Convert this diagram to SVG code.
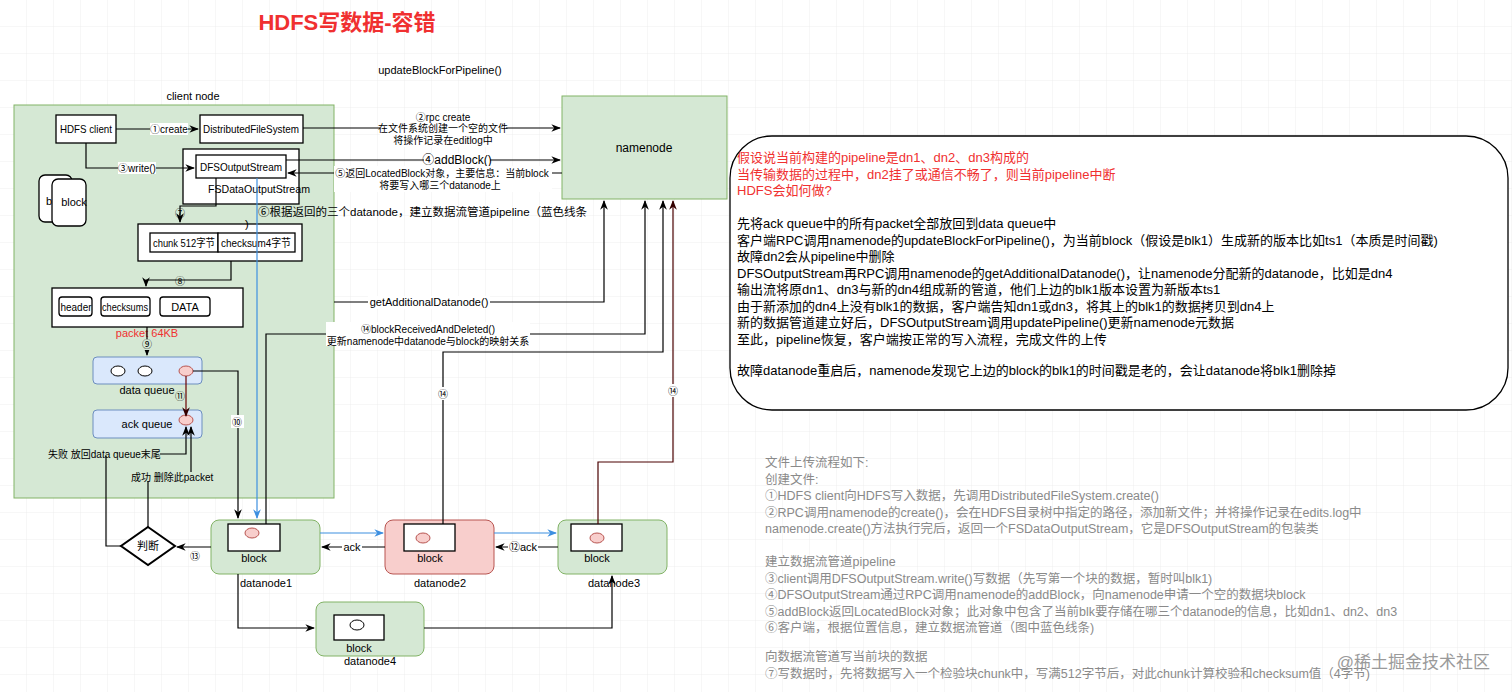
<svg xmlns="http://www.w3.org/2000/svg" width="1512" height="692" viewBox="0 0 1512 692">
<style>
text{font-family:"Liberation Sans","Noto Sans CJK SC",sans-serif;font-size:11px;fill:#000}
.c{text-anchor:middle}
.s{font-size:10px}
.ln{fill:none;stroke:#000;stroke-width:1.2}
.bl{fill:none;stroke:#3d8fe0;stroke-width:1.2}
.box{fill:#fff;stroke:#000;stroke-width:1.3}
.dn{fill:#d5e8d4;stroke:#82b366;stroke-width:1}
.q{fill:#dae8fc;stroke:#6c8ebf;stroke-width:1}
.pk{fill:#f8cecc;stroke:#b85450}
.lb{fill:#fff}
.r{font-size:13px}
.g{font-size:12.5px;fill:#8a8a8a}
</style>
<defs>
<pattern id="grid" width="27" height="27" patternUnits="userSpaceOnUse"><path d="M27 0V27H0" fill="none" stroke="#eee" stroke-width="1"/></pattern>
<marker id="a" viewBox="0 0 10 10" refX="9" refY="5" markerWidth="8" markerHeight="8" orient="auto"><path d="M0 1L10 5L0 9L3 5z" fill="#000"/></marker>
<marker id="ab" viewBox="0 0 10 10" refX="9" refY="5" markerWidth="8" markerHeight="8" orient="auto"><path d="M0 1L10 5L0 9L3 5z" fill="#3d8fe0"/></marker>
<marker id="ar" viewBox="0 0 10 10" refX="9" refY="5" markerWidth="8" markerHeight="8" orient="auto"><path d="M0 1L10 5L0 9L3 5z" fill="#330000"/></marker>
</defs>
<rect width="1512" height="692" fill="#fff"/>
<rect width="1512" height="692" fill="url(#grid)"/>
<text x="347" y="30" class="c" style="font-size:22px;font-weight:bold;fill:#f03030">HDFS写数据-容错</text>
<text x="440" y="74" class="c">updateBlockForPipeline()</text>
<text x="193" y="100" class="c">client node</text>

<g id="clientnode"><rect x="14" y="105" width="320" height="393" class="dn"/></g>
<g id="hdfsclient"><rect x="56" y="115" width="60" height="28" class="box"/><text x="86" y="133" class="c" textLength="52" lengthAdjust="spacingAndGlyphs">HDFS client</text></g>
<g id="dfs"><rect x="200" y="115" width="103" height="28" class="box"/><text x="251" y="133" class="c" textLength="96" lengthAdjust="spacingAndGlyphs">DistributedFileSystem</text></g>
<g id="fsdos"><rect x="183" y="149" width="116" height="55" class="box"/><rect x="196" y="155" width="90" height="23" class="box"/><text x="241" y="171" class="c" textLength="82" lengthAdjust="spacingAndGlyphs">DFSOutputStream</text><text x="259" y="193" class="c" textLength="102" lengthAdjust="spacingAndGlyphs">FSDataOutputStream</text></g>
<g id="blocks"><rect x="39" y="175" width="33" height="47" rx="6" class="box"/><text x="46" y="205">b</text><rect x="52" y="179" width="34" height="47" rx="6" class="box"/><text x="74" y="206" class="c">block</text></g>
<g id="chunk"><rect x="138" y="224" width="164" height="37" class="box"/><rect x="150" y="233" width="68" height="19" class="box"/><rect x="218" y="233" width="77" height="19" class="box"/><text x="184" y="247" class="c" textLength="62" lengthAdjust="spacingAndGlyphs">chunk 512字节</text><text x="256" y="247" class="c" textLength="70" lengthAdjust="spacingAndGlyphs">checksum4字节</text></g>
<g id="packet"><rect x="52" y="288" width="191" height="39" class="box"/><rect x="59" y="297" width="33" height="19" rx="3" class="box"/><rect x="101" y="297" width="49" height="19" rx="3" class="box"/><rect x="160" y="297" width="50" height="19" rx="3" class="box"/><text x="76" y="311" class="c" textLength="31" lengthAdjust="spacingAndGlyphs">header</text><text x="125" y="311" class="c" textLength="46" lengthAdjust="spacingAndGlyphs">checksums</text><text x="185" y="311" class="c">DATA</text><text x="147" y="337" class="c" style="fill:#f03030">packet 64KB</text></g>
<g id="dataqueue"><rect x="93" y="357" width="109" height="27" rx="4" class="q"/><ellipse cx="118" cy="371" rx="7" ry="5" class="box" style="stroke-width:1"/><ellipse cx="145" cy="371" rx="7" ry="5" class="box" style="stroke-width:1"/><ellipse cx="186" cy="371" rx="7" ry="5" class="pk"/><text x="147" y="394" class="c">data queue</text></g>
<g id="ackqueue"><rect x="93" y="410" width="109" height="28" rx="4" class="q"/><ellipse cx="186" cy="420" rx="7" ry="5" class="pk"/><text x="147" y="428" class="c">ack queue</text></g>
<g id="judge"><path d="M148 527L175 546L148 565L121 546Z" fill="#fff" stroke="#000" stroke-width="2"/><text x="148" y="550" class="c">判断</text></g>
<g id="namenode"><rect x="562" y="96" width="165" height="103" class="dn"/><text x="644" y="152" class="c" style="font-size:12px">namenode</text></g>
<g id="datanode1"><rect x="211" y="520" width="109" height="54" rx="8" class="dn"/><rect x="228" y="524" width="52" height="27" class="box"/><ellipse cx="252" cy="533" rx="7" ry="5" class="pk"/><text x="254" y="562" class="c">block</text><text x="266" y="587" class="c">datanode1</text></g>
<g id="datanode2"><rect x="385" y="520" width="109" height="54" rx="8" fill="#f8cecc" stroke="#b85450"/><rect x="404" y="524" width="51" height="27" class="box"/><ellipse cx="423" cy="538" rx="7" ry="5" class="pk"/><text x="430" y="562" class="c">block</text><text x="440" y="587" class="c">datanode2</text></g>
<g id="datanode3"><rect x="558" y="520" width="109" height="54" rx="8" class="dn"/><rect x="571" y="524" width="51" height="27" class="box"/><ellipse cx="597" cy="538" rx="7" ry="5" class="pk"/><text x="597" y="562" class="c">block</text><text x="614" y="587" class="c">datanode3</text></g>
<g id="datanode4"><rect x="316" y="602" width="108" height="54" rx="8" class="dn"/><rect x="334" y="615" width="50" height="25" class="box"/><ellipse cx="357" cy="625" rx="7" ry="5" class="box" style="stroke-width:1"/><text x="359" y="652" class="c">block</text><text x="370" y="665" class="c">datanode4</text></g>

<g id="connectors">
<path d="M116 129H198" class="ln" marker-end="url(#a)"/>
<rect x="150" y="123" width="38" height="12" class="lb"/><text x="169" y="133" class="c s">①create</text>
<path d="M86 143V168H194" class="ln" marker-end="url(#a)"/>
<rect x="118" y="162" width="38" height="12" class="lb"/><text x="137" y="172" class="c s">③write()</text>
<path d="M303 128H560" class="ln" marker-end="url(#a)"/>
<rect x="380" y="123" width="126" height="24" class="lb"/>
<text x="443" y="121" class="c s">②rpc create</text><text x="443" y="132" class="c s">在文件系统创建一个空的文件</text><text x="443" y="144" class="c s">将操作记录在editlog中</text>
<path d="M286 160H560" class="ln" marker-end="url(#a)"/>
<rect x="424" y="153" width="66" height="13" class="lb"/><text x="457" y="164" class="c" style="font-size:12px">④addBlock()</text>
<path d="M562 173H288" class="ln" marker-end="url(#a)"/>
<rect x="334" y="166" width="218" height="26" class="lb"/>
<text x="442" y="177" class="c s">⑤返回LocatedBlock对象，主要信息：当前block</text><text x="440" y="189" class="c s">将要写入哪三个datanode上</text>
<text x="258" y="216" style="font-size:11.5px">⑥根据返回的三个datanode，建立数据流管道pipeline（蓝色线条</text><text x="245" y="228">)</text>
<path d="M216 178V206H180V222" class="ln" marker-end="url(#a)"/><text x="180" y="217" class="c s">⑦</text>
<path d="M231 261V280H146V286" class="ln" marker-end="url(#a)"/><text x="180" y="285" class="c s">⑧</text>
<path d="M147 327V355" class="ln" marker-end="url(#a)"/><rect x="141" y="339" width="12" height="11" class="dn" style="stroke:none"/><text x="147" y="348" class="c s">⑨</text>
<path d="M186 376V416" fill="none" stroke="#6b0000" stroke-width="1.2" marker-end="url(#ar)"/><text x="180" y="400" class="c s">⑪</text>
<path d="M193 371H238V518" class="ln" marker-end="url(#a)"/><rect x="231" y="415" width="13" height="13" class="lb"/><text x="237" y="426" class="c s">⑩</text>
<path d="M257 178V518" class="bl" marker-end="url(#ab)"/>
<path d="M121 546H106V456" class="ln"/>
<path d="M160 454H186V427" class="ln" marker-end="url(#a)"/>
<text x="48" y="458" class="s">失败 放回data queue末尾</text>
<path d="M148 527V481" class="ln"/>
<path d="M191 472V427" class="ln" marker-end="url(#a)"/>
<text x="131" y="481" class="s">成功 删除此packet</text>
<path d="M211 547H177" class="ln" marker-end="url(#a)"/><text x="195" y="560" class="c s">⑬</text>
<path d="M320 533H383" class="bl" marker-end="url(#ab)"/>
<path d="M494 533H556" class="bl" marker-end="url(#ab)"/>
<path d="M385 547H322" class="ln" marker-end="url(#a)"/><rect x="342" y="541" width="20" height="12" class="lb"/><text x="352" y="551" class="c">ack</text>
<path d="M558 547H496" class="ln" marker-end="url(#a)"/><rect x="508" y="541" width="30" height="12" class="lb"/><text x="523" y="551" class="c">⑫ack</text>
<path d="M238 574V628H314" class="ln" marker-end="url(#a)"/>
<path d="M424 628H612V576" class="ln" marker-end="url(#a)"/>
<path d="M334 302H604V201" class="ln" marker-end="url(#a)"/>
<rect x="368" y="296" width="122" height="13" class="lb"/><text x="429" y="306" class="c">getAdditionalDatanode()</text>
<path d="M266 524V334H645V201" class="ln" marker-end="url(#a)"/>
<rect x="326" y="322" width="204" height="24" class="lb"/>
<text x="428" y="333" class="c s">⑭blockReceivedAndDeleted()</text><text x="428" y="345" class="c s">更新namenode中datanode与block的映射关系</text>
<path d="M443 524V352H663V201" class="ln" marker-end="url(#a)"/><rect x="436" y="387" width="14" height="13" class="lb"/><text x="443" y="398" class="c s">⑭</text>
<path d="M598 524V462H673V201" fill="none" stroke="#4a0000" stroke-width="1.2" marker-end="url(#ar)"/><rect x="666" y="384" width="14" height="13" class="lb"/><text x="673" y="395" class="c s">⑭</text>
</g>

<g id="note">
<rect x="730" y="136" width="778" height="274" rx="42" fill="#fff" stroke="#000" stroke-width="1.3"/>
<text x="737" y="162" class="r" style="fill:#f03030">假设说当前构建的pipeline是dn1、dn2、dn3构成的</text>
<text x="737" y="179" class="r" style="fill:#f03030">当传输数据的过程中，dn2挂了或通信不畅了，则当前pipeline中断</text>
<text x="737" y="195" class="r" style="fill:#f03030">HDFS会如何做?</text>
<text x="737" y="228" class="r">先将ack queue中的所有packet全部放回到data queue中</text>
<text x="737" y="245" class="r">客户端RPC调用namenode的updateBlockForPipeline()，为当前block（假设是blk1）生成新的版本比如ts1（本质是时间戳)</text>
<text x="737" y="261" class="r">故障dn2会从pipeline中删除</text>
<text x="737" y="278" class="r">DFSOutputStream再RPC调用namenode的getAdditionalDatanode()，让namenode分配新的datanode，比如是dn4</text>
<text x="737" y="294" class="r">输出流将原dn1、dn3与新的dn4组成新的管道，他们上边的blk1版本设置为新版本ts1</text>
<text x="737" y="311" class="r">由于新添加的dn4上没有blk1的数据，客户端告知dn1或dn3，将其上的blk1的数据拷贝到dn4上</text>
<text x="737" y="327" class="r">新的数据管道建立好后，DFSOutputStream调用updatePipeline()更新namenode元数据</text>
<text x="737" y="344" class="r">至此，pipeline恢复，客户端按正常的写入流程，完成文件的上传</text>
<text x="737" y="375" class="r">故障datanode重启后，namenode发现它上边的block的blk1的时间戳是老的，会让datanode将blk1删除掉</text>
</g>

<g id="flowtext">
<text x="765" y="467" class="g">文件上传流程如下:</text>
<text x="765" y="484" class="g">创建文件:</text>
<text x="765" y="500" class="g">①HDFS client向HDFS写入数据，先调用DistributedFileSystem.create()</text>
<text x="765" y="517" class="g">②RPC调用namenode的create()，会在HDFS目录树中指定的路径，添加新文件；并将操作记录在edits.log中</text>
<text x="765" y="533" class="g">namenode.create()方法执行完后，返回一个FSDataOutputStream，它是DFSOutputStream的包装类</text>
<text x="765" y="566" class="g">建立数据流管道pipeline</text>
<text x="765" y="583" class="g">③client调用DFSOutputStream.write()写数据（先写第一个块的数据，暂时叫blk1)</text>
<text x="765" y="599" class="g">④DFSOutputStream通过RPC调用namenode的addBlock，向namenode申请一个空的数据块block</text>
<text x="765" y="616" class="g">⑤addBlock返回LocatedBlock对象；此对象中包含了当前blk要存储在哪三个datanode的信息，比如dn1、dn2、dn3</text>
<text x="765" y="632" class="g">⑥客户端，根据位置信息，建立数据流管道（图中蓝色线条)</text>
<text x="765" y="661" class="g">向数据流管道写当前块的数据</text>
<text x="765" y="678" class="g">⑦写数据时，先将数据写入一个检验块chunk中，写满512字节后，对此chunk计算校验和checksum值（4字节)</text>
<text x="1490" y="668" style="font-size:17px;fill:#9a9a9a;text-anchor:end">@稀土掘金技术社区</text>
</g>
</svg>
